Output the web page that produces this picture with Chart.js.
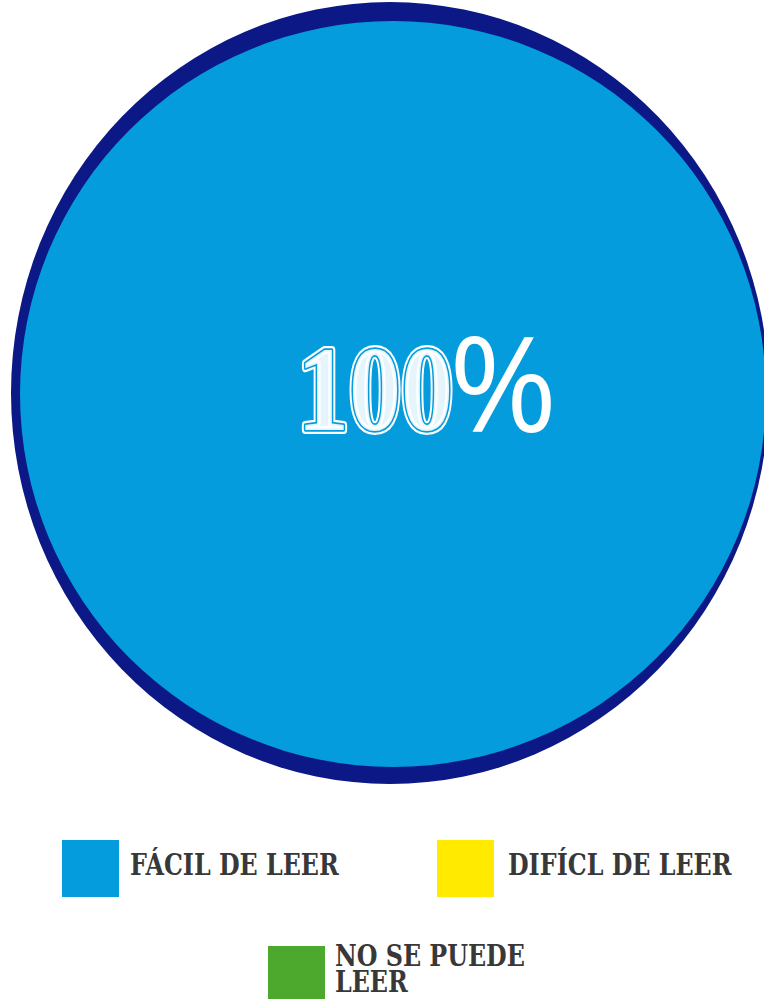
<!DOCTYPE html>
<html>
<head>
<meta charset="utf-8">
<script src="https://cdn.jsdelivr.net/npm/chart.js@4/dist/chart.umd.min.js"></script>
<style>
  html, body { margin: 0; padding: 0; background: #ffffff; width: 764px; height: 999px; overflow: hidden; }
  #wrap { position: absolute; left: 0; top: 0; width: 786px; height: 788px; }
  .box { position: absolute; width: 57px; height: 57px; }
  .txt { position: absolute; font-family: "DejaVu Serif", serif;
         font-weight: bold; font-size: 29px; line-height: 26px; color: #383838; white-space: nowrap;
         transform-origin: left top; transform: scaleX(0.82); }
</style>
</head>
<body>
<div id="wrap"><canvas id="c"></canvas></div>
<div id="legend"></div>
<script>
// ---- data ----
const categories = ["FÁCIL DE LEER", "DIFÍCL DE LEER", "NO SE PUEDE LEER"];
const values = [100, 0, 0];
const colors = ["#049cdc", "#ffea00", "#4ca92e"];

// ---- styles / layout ----
const ringColor = "#0b1885";
const legendLayout = [
  { box: [62, 840], text: [130, 852], lines: ["FÁCIL DE LEER"] },
  { box: [437, 840], text: [508, 852], lines: ["DIFÍCL DE LEER"] },
  { box: [268, 946], text: [335, 943], lines: ["NO SE PUEDE", "LEER"] }
];

const ringPlugin = {
  id: 'ring',
  beforeDatasetsDraw(chart) {
    const arc = chart.getDatasetMeta(0).data[0];
    if (!arc) return;
    const ctx = chart.ctx;
    const r = arc.outerRadius;
    ctx.save();
    ctx.fillStyle = ringColor;
    ctx.beginPath();
    ctx.ellipse(arc.x - 3, arc.y - 1, r + 6, r + 18, 0, 0, Math.PI * 2);
    ctx.fill();
    ctx.restore();
  }
};

const centerText = {
  id: 'centerText',
  afterDatasetsDraw(chart) {
    const arc = chart.getDatasetMeta(0).data[0];
    if (!arc) return;
    const total = values.reduce((a, b) => a + b, 0);
    const pct = Math.round(values[0] / total * 100);
    const ctx = chart.ctx;
    ctx.save();
    ctx.translate(arc.x - 96, arc.y + 36);
    ctx.scale(0.86, 1);
    ctx.font = "bold 121px 'Liberation Serif', serif";
    ctx.textBaseline = 'alphabetic';
    ctx.textAlign = 'left';
    ctx.lineJoin = 'round';
    const num = String(pct);
    ctx.strokeStyle = '#ffffff';
    ctx.lineWidth = 8;
    ctx.strokeText(num, 0, 0);
    ctx.strokeStyle = colors[0];
    ctx.lineWidth = 3.5;
    ctx.strokeText(num, 0, 0);
    ctx.fillStyle = 'rgba(255,255,255,0.9)';
    ctx.fillText(num, 0, 0);
    ctx.restore();
    ctx.save();
    ctx.font = "131px 'Open Sans', sans-serif";
    ctx.fillStyle = '#ffffff';
    ctx.textBaseline = 'alphabetic';
    ctx.fillText('%', arc.x + 56, arc.y + 38);
    ctx.restore();
  }
};

new Chart(document.getElementById('c'), {
  type: 'pie',
  data: {
    labels: categories,
    datasets: [{
      data: values,
      backgroundColor: colors,
      borderWidth: 0,
      hoverOffset: 0
    }]
  },
  options: {
    responsive: true,
    maintainAspectRatio: false,
    animation: false,
    layout: { padding: { left: 20, right: 20, top: 21, bottom: 21 } },
    plugins: {
      legend: { display: false },
      tooltip: { enabled: false }
    }
  },
  plugins: [ringPlugin, centerText]
});

// HTML legend built from the data arrays
const lg = document.getElementById('legend');
categories.forEach((c, i) => {
  const L = legendLayout[i];
  const b = document.createElement('div');
  b.className = 'box';
  b.style.left = L.box[0] + 'px';
  b.style.top = L.box[1] + 'px';
  b.style.background = colors[i];
  lg.appendChild(b);
  const t = document.createElement('div');
  t.className = 'txt';
  t.style.left = L.text[0] + 'px';
  t.style.top = L.text[1] + 'px';
  t.innerHTML = L.lines.join('<br>');
  t.title = c;
  lg.appendChild(t);
});
</script>
</body>
</html>
